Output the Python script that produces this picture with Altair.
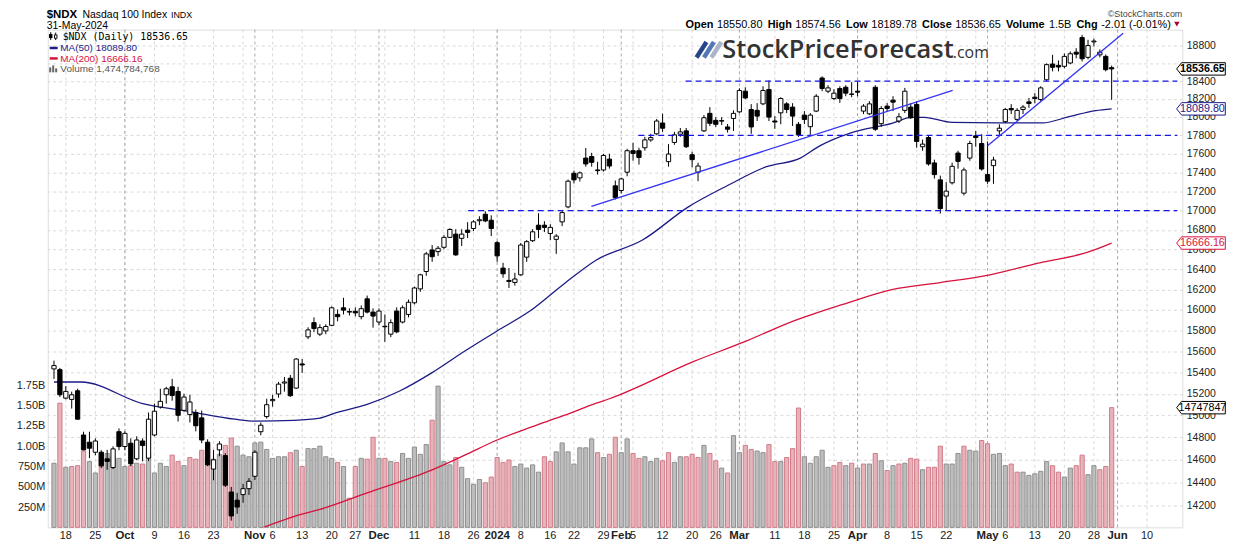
import altair as alt
import pandas as pd

# ---------------- data ----------------
opens = [15433,15426,15160,15148,15228,14822,14757,14667,14667,14608,
         14531,14852,14718,14748,14608,14768,14614,14822,15078,15191,
         15265,15222,15047,15008,15027,14978,14757,14517,14688,14637,
         14315,14244,14292,14344,14453,14852,14990,15136,15198,15300,
         15345,15253,15480,15738,15875,15764,15795,15849,15955,16020,
         15983,15985,15933,16108,15978,15881,15840,15764,15988,15881,
         15955,16069,16206,16379,16596,16579,16623,16724,16757,16714,
         16798,16815,16895,16962,16900,16670,16413,16290,16270,16346,
         16523,16690,16849,16849,16764,16704,16883,17038,17392,17343,
         17554,17571,17427,17427,17543,17259,17210,17403,17633,17633,
         17665,17750,17816,17934,17516,17723,17812,17848,17590,17403,
         17848,18040,17963,17960,17891,17984,18057,18286,18083,18073,
         18145,18305,17956,18046,18145,18109,17920,18021,17894,18065,
         18434,18286,18204,18316,18330,18250,18286,18065,18035,18330,
         17927,18120,18186,17956,18073,18109,18139,17676,17776,17502,
         17322,17151,17291,17608,17182,17554,17794,17711,17378,17473,
         17848,17949,18094,17974,18083,18167,18219,18193,18414,18592,
         18577,18566,18604,18727,18895,18668,18845,18697,18679,18550.80]
highs = [15511,15442,15272,15220,15247,14852,14852,14792,14685,14688,
         14720,14882,14855,14792,14810,14792,15027,15109,15247,15265,
         15339,15265,15200,15191,15054,15045,14783,14688,14766,14658,
         14359,14307,14386,14438,14685,14936,15154,15191,15311,15357,
         15376,15535,15526,15830,15926,15859,15859,16033,16004,16118,
         16014,16024,16043,16140,16014,16014,15955,15907,16024,16043,
         16101,16228,16356,16576,16646,16636,16747,16818,16808,16808,
         16880,16900,16941,16993,16951,16687,16466,16413,16366,16667,
         16697,16808,16972,16890,16859,16757,17003,17325,17420,17410,
         17662,17611,17515,17600,17600,17315,17346,17654,17719,17665,
         17783,17816,17978,18037,17704,17837,17880,17880,17622,17505,
         18021,18109,17999,17999,17923,18073,18319,18330,18142,18153,
         18341,18405,18010,18219,18164,18153,17945,18065,18043,18253,
         18453,18353,18308,18341,18353,18387,18397,18142,18175,18353,
         18120,18153,18230,18043,18323,18153,18175,17753,17794,17537,
         17367,17298,17505,17633,17452,17740,17848,17812,17733,17568,
         17920,18098,18142,18098,18131,18211,18264,18341,18600,18697,
         18633,18713,18735,18773,18926,18869,18883,18758,18701,18574.56]
lows = [15339,15170,15148,15063,14963,14685,14614,14640,14525,14510,
        14517,14685,14685,14543,14596,14585,14587,14810,15063,15109,
        15136,14945,15035,14936,14855,14748,14543,14418,14631,14359,
        14067,14126,14221,14289,14420,14819,14972,15081,15163,15220,
        15172,15247,15395,15716,15783,15745,15764,15840,15888,15955,
        15945,15936,15907,15965,15827,15849,15690,15735,15773,15868,
        15926,16053,16177,16336,16476,16536,16603,16717,16536,16636,
        16717,16788,16849,16880,16737,16476,16317,16215,16238,16336,
        16476,16677,16717,16778,16697,16556,16839,17024,17284,17305,
        17462,17462,17378,17410,17441,17116,17179,17360,17526,17484,
        17633,17730,17805,17837,17462,17697,17783,17662,17455,17308,
        17837,17901,17891,17912,17830,17848,18043,18197,17816,17956,
        18131,17956,17870,17920,18043,17901,17783,17923,17805,18054,
        18286,18264,18186,18156,18230,18219,18230,18032,18021,17848,
        17891,18065,18065,17934,18043,17978,17665,17633,17473,17336,
        16969,17003,17273,17441,17158,17526,17676,17420,17280,17280,
        17805,17934,18032,17956,18032,18101,18153,18175,18397,18509,
        18509,18543,18589,18657,18622,18645,18792,18668,18509,18189.78]
closes = [15464,15191,15222,15191,14966,14688,14703,14768,14545,14585,
          14697,14718,14837,14563,14777,14727,14966,15039,15130,15247,
          15185,15002,15170,15124,14906,14777,14554,14599,14741,14374,
          14107,14184,14344,14409,14667,14911,15099,15148,15290,15310,
          15182,15526,15470,15805,15818,15827,15838,16020,15933,15997,
          15978,15970,16011,15978,15939,15988,15835,15875,15786,16020,
          16074,16215,16346,16556,16528,16613,16724,16805,16546,16757,
          16775,16883,16905,16893,16815,16536,16356,16280,16304,16646,
          16680,16781,16805,16826,16826,16737,16979,17308,17322,17396,
          17491,17508,17420,17582,17469,17134,17332,17633,17604,17561,
          17750,17775,17956,17877,17597,17805,17837,17676,17537,17469,
          17992,17931,17920,17955,17866,18040,18294,18211,17891,18010,
          18294,17999,17945,18204,18083,18010,17805,17973,18021,18230,
          18316,18323,18264,18204,18264,18255,18275,18120,18145,17866,
          18094,18094,18164,18002,18286,17992,17733,17704,17491,17378,
          17021,17203,17466,17519,17427,17711,17776,17437,17308,17533,
          17877,18083,18079,18073,18109,18149,18204,18323,18585,18555,
          18558,18679,18709,18705,18652,18803,18855,18727,18528,18536.65]
volume_b = [0.79,1.53,0.74,0.75,0.76,0.94,0.81,0.67,0.91,0.91,
            0.87,0.85,0.75,0.76,0.79,0.78,0.90,0.67,0.79,0.75,
            0.89,0.81,0.76,0.86,0.84,0.95,1.02,0.84,0.90,1.01,
            1.10,1.00,0.89,0.87,1.04,1.05,0.96,0.85,0.87,0.87,
            0.92,0.95,0.75,0.97,0.97,1.00,0.87,0.85,0.80,0.75,
            0.36,0.75,0.85,0.84,1.11,0.85,0.85,0.81,0.80,0.91,
            0.85,0.99,0.90,1.02,1.32,1.74,0.81,0.77,0.86,0.74,
            0.60,0.53,0.59,0.55,0.62,0.86,0.80,0.83,0.75,0.78,
            0.73,0.77,0.68,0.87,0.81,0.93,1.04,0.93,0.78,0.98,
            0.98,1.09,0.92,0.86,0.90,1.11,0.92,1.09,0.91,0.85,
            0.87,0.81,0.85,0.82,0.92,0.80,0.87,0.87,0.90,0.86,
            1.01,0.91,0.82,0.73,0.67,1.13,0.92,1.01,0.96,0.94,
            0.92,1.02,0.81,0.81,0.86,0.97,1.47,0.87,0.79,0.87,
            0.95,0.74,0.76,0.80,0.76,0.79,0.73,0.78,0.78,0.91,
            0.82,0.70,0.76,0.78,0.79,0.85,0.84,0.71,0.74,0.74,
            1.00,0.78,0.78,0.91,1.00,0.95,0.94,1.07,1.03,0.90,
            0.91,0.76,0.78,0.68,0.68,0.64,0.66,0.69,0.81,0.76,
            0.68,0.62,0.73,0.76,0.89,0.65,0.76,0.71,0.75,1.474784768]
vol_down = [0,1,0,1,1,1,0,0,1,0, 0,0,0,1,0,1,0,0,0,0,
            1,1,0,1,1,1,1,0,0,1, 1,0,0,0,0,0,0,0,0,0,
            1,0,1,0,0,0,0,0,1,0, 1,1,0,1,1,0,1,0,1,0,
            0,0,0,0,1,0,0,0,1,0, 0,0,0,1,1,1,1,1,0,0,
            0,0,0,1,1,0,0,0,0,0, 0,0,1,0,1,1,0,0,1,1,
            0,0,0,1,1,0,0,1,1,1, 0,1,1,0,1,0,0,1,1,0,
            0,1,1,0,1,1,1,0,0,0, 0,0,1,1,0,1,0,1,0,1,
            0,1,0,1,0,1,1,0,1,1, 1,0,0,0,1,0,0,1,1,0,
            0,0,1,1,0,0,0,0,0,1, 1,0,0,1,1,0,0,1,1,1]

ma50_idx = [0,4.6,15,23,30.6,34,40.6,45,47.3,53,58.5,64,69.6,75,80.6,86.3,91.8,99.6,
            107.3,114,120.6,126.3,129.6,135,141.8,145.1,147.3,152,159.6,167.3,171.8,176.3,179]
ma50_val = [15310,15310,15109,15036,14966,14948,14955,14975,15017,15102,15226,15398,15605,
            15795,15990,16255,16495,16697,17036,17262,17462,17554,17686,17830,17930,17996,
            17996,17940,17935,17935,18004,18070,18089.80]
ma200_idx = [35,41.8,45,53,64,69.6,75,80.6,86.3,91.8,94,108.4,116.8,125,133.5,141.8,150,
             158.4,166.8,175.1,179]
ma200_val = [14000,14120,14163,14307,14510,14643,14777,14891,15000,15113,15154,15506,15689,
             15888,16053,16199,16268,16346,16466,16576,16666.16]

tick_idx = [2,7,12,17,22,27,34,37,42,47,51,55,61,66,71,75,79,84,88,93,96,98,103,108,112,
            116,122,127,132,136,141,146,151,158,161,166,171,176,180,185]
tick_lbl = ["18","25","Oct","9","16","23","Nov","6","13","20","27","Dec","11","18","26",
            "2024","8","16","22","29","Feb","5","12","20","26","Mar","11","18","25","Apr",
            "8","15","22","May","6","13","20","28","Jun","10"]
bold_lbls = ["Oct","Nov","Dec","2024","Feb","Mar","Apr","May","Jun"]
week_grid = [2,7,12,17,22,27,32,37,42,47,51,56,61,66,71,75,79,84,88,93,98,103,108,112,117,
             122,127,132,136,141,146,151,156,161,166,171,176,180,185]
month_grid = [12,34,55,75,96,116,136,158,180]

price_ticks = [14200,14400,14600,14800,15000,15200,15400,15600,15800,16000,16200,16400,
               16600,16800,17000,17200,17400,17600,17800,18000,18200,18400,18600,18800]
vol_ticks = [0.25,0.5,0.75,1.0,1.25,1.5,1.75]

level_price = [18400, 17800, 17000]
level_start = [106.9, 98.9, 70.1]
level_end = [190.12, 190.12, 190.12]
trend_i1 = [90.95, 158.0]
trend_p1 = [17044, 17686]
trend_i2 = [152.1, 180.95]
trend_p2 = [18294, 18945]

box_vals = [18536.65, 18089.80, 16666.16]
box_text = ["18536.65", "18089.80", "16666.16"]
vol_box_val = [1.474784768]
vol_box_text = ["14747847"]

quote_lbl = ["Open", "High", "Low", "Close", "Volume", "Chg"]
quote_val = ["18550.80", "18574.56", "18189.78", "18536.65", "1.5B", "-2.01 (-0.01%)"]

# ---------------- layout ----------------
W, H = 1142, 501
XS = dict(domain=[-0.217, 190.12], nice=False, zero=False)
PS = dict(type="log", domain=[14009, 18987], nice=False)
VS = dict(domain=[0, 6.132], nice=False, zero=True)
NAVY = "#1b1b86"
CRIM = "#d6123e"
FONT = "Liberation Sans"
BOX = "M-1,0L-0.8,-0.25L0.96,-0.25L0.96,0.25L-0.8,0.25Z"
BOXX = 194.2


def X(f):
    return alt.X(f, scale=alt.Scale(**XS), axis=None)


def PY(f, axis=None):
    return alt.Y(f, scale=alt.Scale(**PS), axis=axis)


one = pd.DataFrame({"k": [0]})


def T(s, x, y, size=11, weight="normal", color="#000", font=FONT, align="left", baseline="alphabetic"):
    return alt.Chart(one).mark_text(text=s, align=align, baseline=baseline, fontSize=size,
                                    fontWeight=weight, color=color, font=font).encode(
        x=alt.value(x), y=alt.value(y))


def R(x1, x2, y1, y2, color, w):
    return alt.Chart(one).mark_rule(color=color, strokeWidth=w, strokeCap="butt").encode(
        x=alt.value(x1), x2=alt.value(x2), y=alt.value(y1), y2=alt.value(y2))


cdf = pd.DataFrame({"i": list(range(len(opens))), "o": opens, "h": highs, "l": lows, "c": closes})
vdf = pd.DataFrame({"i": list(range(len(volume_b))), "v": volume_b, "dn": vol_down})

price_axis = alt.Axis(orient="right", values=price_ticks, format="d", title=None,
                      labelExpr="datum.value == 18600 ? '' : datum.label", grid=True,
                      gridColor="#dadada", gridDash=[3, 3], ticks=False, domain=False,
                      labelPadding=4, labelFont=FONT, labelFontSize=10.5, labelColor="#222",
                      labelAlign="left", labelBaseline="middle", labelOverlap=False, labelFlush=False)
vol_axis = alt.Axis(orient="left", values=vol_ticks, title=None,
                    labelExpr="datum.value >= 1 ? format(datum.value, '.2f') + 'B' : format(datum.value*1000, 'd') + 'M'",
                    grid=False, ticks=False, domain=False, labelPadding=3, labelFont=FONT,
                    labelFontSize=11, labelColor="#222", labelOverlap=False)

layers = []
layers.append(alt.Chart(pd.DataFrame({"g": week_grid})).mark_rule(color="#d8d8d8", strokeDash=[3, 3]).encode(
    x=X("g:Q"), y=alt.value(0), y2=alt.value(H)))
layers.append(alt.Chart(pd.DataFrame({"g": month_grid})).mark_rule(color="#a9a9a9", strokeDash=[3, 3]).encode(
    x=X("g:Q"), y=alt.value(0), y2=alt.value(H)))

# volume
layers.append(alt.Chart(vdf).mark_bar(size=4.2, strokeWidth=1).encode(
    x=X("i:Q"),
    y=alt.Y("v:Q", scale=alt.Scale(**VS), axis=vol_axis, stack=None),
    fill=alt.condition("datum.dn == 1", alt.value("#e7b3ba"), alt.value("#bdbdbd")),
    stroke=alt.condition("datum.dn == 1", alt.value("#d27a88"), alt.value("#8e8e8e"))))

# moving averages
layers.append(alt.Chart(pd.DataFrame({"i": ma200_idx, "p": ma200_val})).mark_line(
    color=CRIM, strokeWidth=1.3, interpolate="monotone", clip=True).encode(x=X("i:Q"), y=PY("p:Q")))
layers.append(alt.Chart(pd.DataFrame({"i": ma50_idx, "p": ma50_val})).mark_line(
    color=NAVY, strokeWidth=1.3, interpolate="monotone", clip=True).encode(x=X("i:Q"), y=PY("p:Q")))

# candles
layers.append(alt.Chart(cdf).mark_rule(color="#000", strokeWidth=1).encode(
    x=X("i:Q"), y=PY("l:Q", axis=price_axis), y2="h:Q"))
layers.append(alt.Chart(cdf).mark_bar(size=4.3, stroke="#000", strokeWidth=1).encode(
    x=X("i:Q"), y=PY("o:Q"), y2="c:Q",
    fill=alt.condition("datum.c >= datum.o", alt.value("#ffffff"), alt.value("#000000"))))

# support / resistance levels and trend lines
layers.append(alt.Chart(pd.DataFrame({"s": level_start, "e": level_end, "p": level_price})).mark_rule(
    color="#1414e6", strokeWidth=1.3, strokeDash=[6, 4]).encode(x=X("s:Q"), x2="e:Q", y=PY("p:Q")))
layers.append(alt.Chart(pd.DataFrame({"a": trend_i1, "b": trend_i2, "p1": trend_p1, "p2": trend_p2})).mark_rule(
    color="#3333f2", strokeWidth=1.3).encode(x=X("a:Q"), x2="b:Q", y=PY("p1:Q"), y2="p2:Q"))

# value boxes on the right axis
pb = pd.DataFrame({"x": [BOXX] * 3, "p": box_vals, "t": box_text, "col": ["#000000", NAVY, CRIM]})
layers.append(alt.Chart(pb).mark_point(shape=BOX, size=2500, filled=True, fill="white", opacity=1,
                                       strokeWidth=1).encode(
    x=X("x:Q"), y=PY("p:Q"), stroke=alt.Stroke("col:N", scale=None)))
layers.append(alt.Chart(pb.iloc[:1]).mark_text(font=FONT, fontSize=10.8, fontWeight="bold", align="center",
                                               baseline="middle", dx=1).encode(
    x=X("x:Q"), y=PY("p:Q"), text="t:N", color=alt.Color("col:N", scale=None)))
layers.append(alt.Chart(pb.iloc[1:]).mark_text(font=FONT, fontSize=10.8, align="center",
                                               baseline="middle", dx=1).encode(
    x=X("x:Q"), y=PY("p:Q"), text="t:N", color=alt.Color("col:N", scale=None)))
vb = pd.DataFrame({"x": [BOXX], "v": vol_box_val, "t": vol_box_text})
layers.append(alt.Chart(vb).mark_point(shape=BOX, size=2500, filled=True, fill="white", opacity=1,
                                       stroke="#000", strokeWidth=1).encode(
    x=X("x:Q"), y=alt.Y("v:Q", scale=alt.Scale(**VS), axis=None)))
layers.append(alt.Chart(vb).mark_text(font=FONT, fontSize=10.8, align="center", baseline="middle", dx=1,
                                      color="#000").encode(
    x=X("x:Q"), y=alt.Y("v:Q", scale=alt.Scale(**VS), axis=None), text="t:N"))

# x-axis labels
tdf = pd.DataFrame({"i": tick_idx, "t": tick_lbl})
tdf["b"] = tdf["t"].isin(bold_lbls)
layers.append(alt.Chart(tdf[~tdf["b"]]).mark_text(font=FONT, fontSize=11, color="#222", align="center",
                                                  baseline="alphabetic").encode(
    x=X("i:Q"), y=alt.value(H + 12), text="t:N"))
layers.append(alt.Chart(tdf[tdf["b"]]).mark_text(font=FONT, fontSize=11.5, fontWeight="bold", color="#222",
                                                 align="center", baseline="alphabetic").encode(
    x=X("i:Q"), y=alt.value(H + 12), text="t:N"))

# header texts
layers += [
    T("$NDX", -1, -12, 11.5, "bold"),
    T("Nasdaq 100 Index", 35, -12, 10.5),
    T("INDX", 124, -12, 9),
    T("31-May-2024", -1, -1, 10.5),
    T("©StockCharts.com", 1142, -13, 9, color="#444", align="right"),
]
lbl_x = [642, 724.6, 803.5, 880, 964.5, 1035.4]
val_x = [673.6, 752.5, 829, 913.5, 1007.7, 1060.3]
for s, x in zip(quote_lbl, lbl_x):
    layers.append(T(s, x, -2, 11, "bold"))
for s, x in zip(quote_val, val_x):
    layers.append(T(s, x, -2, 11))
layers.append(alt.Chart(one).mark_point(shape="triangle-down", size=30, filled=True, color="#b3002d",
                                        opacity=1).encode(x=alt.value(1136.5), y=alt.value(-5.5)))

# legend inside plot
layers += [
    R(3, 3, 2.5, 10.5, "#000", 1), R(3, 3, 4.5, 8.5, "#000", 3.5),
    R(8, 8, 3, 10.5, "#000", 1), R(8, 8, 5, 9, "#000", 3.5), R(8, 8, 5.8, 8.2, "#fff", 1.6),
    T("$NDX (Daily) 18536.65", 15, 10.5, 10, font="DejaVu Sans Mono"),
    R(2, 10, 18.5, 18.5, NAVY, 2.5),
    T("MA(50) 18089.80", 12.7, 22, 10, color=NAVY),
    R(2, 10, 29, 29, CRIM, 2.5),
    T("MA(200) 16666.16", 12.7, 32.7, 10, color=CRIM),
    R(2.5, 2.5, 38, 43, "#666", 2), R(5.5, 5.5, 36, 43, "#666", 2), R(8.5, 8.5, 39, 43, "#666", 2),
    T("Volume 1,474,784,768", 12.7, 43, 10, color="#555"),
]

# watermark logo
layers += [
    R(653, 663, 28, 12.5, "#27458a", 4.5),
    R(660.5, 670.5, 28, 12.5, "#5577b8", 4.5),
    R(668, 678, 28, 12.5, "#aab5c8", 4.5),
    T("StockPriceForecast", 679, 28.3, 25.5, 600, "#333333", font="Open Sans"),
    T(".com", 911, 28.3, 16, "normal", "#333333", font="Open Sans"),
]

chart = alt.layer(*layers).resolve_scale(y="independent").properties(
    width=W, height=H,
    autosize=alt.AutoSizeParams(type="none"),
    padding={"left": 40, "top": 20, "right": 50, "bottom": 17},
).configure_view(stroke="#a6a6a6", strokeWidth=1.5).configure(background="white")

chart.save("out.html", embed_options={"renderer": "svg", "actions": False})
